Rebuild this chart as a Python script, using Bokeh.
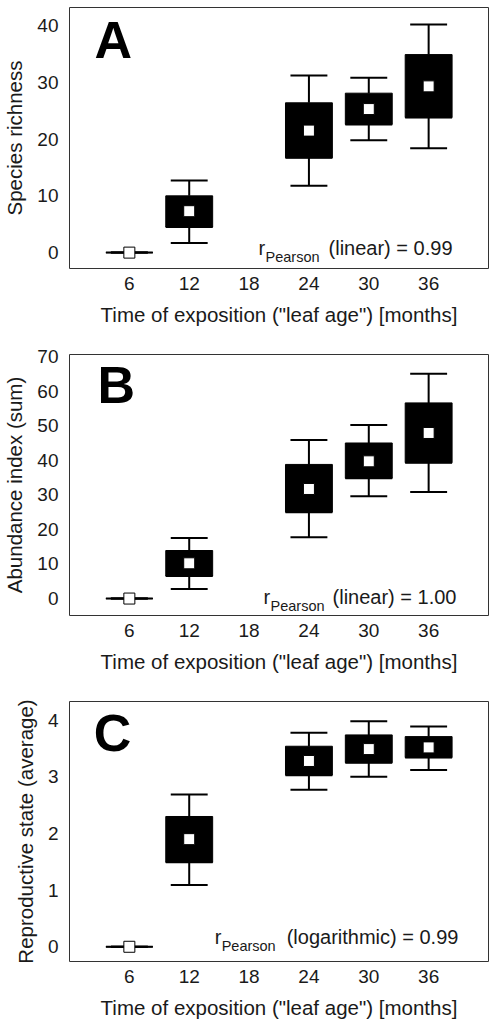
from bokeh.plotting import figure
from bokeh.layouts import column
from bokeh.models import FixedTicker, Label
from bokeh.embed import file_html
from bokeh.resources import INLINE

# ---- data ----
months = [6, 12, 24, 30, 36]
x_ticks = [6, 12, 18, 24, 30, 36]

# Panel A: species richness
rich_lo = [0, 1.7, 11.8, 19.8, 18.4]
rich_q1 = [0, 4.5, 16.7, 22.6, 23.8]
rich_mid = [0, 7.3, 21.5, 25.3, 29.3]
rich_q3 = [0, 10.0, 26.4, 28.1, 34.9]
rich_hi = [0, 12.7, 31.2, 30.8, 40.2]
rich_ticks = [0, 10, 20, 30, 40]

# Panel B: abundance index (sum)
abun_lo = [0, 2.8, 17.7, 29.6, 30.8]
abun_q1 = [0, 6.5, 25.0, 34.8, 39.3]
abun_mid = [0, 10.2, 31.7, 39.7, 47.9]
abun_q3 = [0, 13.9, 38.8, 45.0, 56.6]
abun_hi = [0, 17.5, 45.9, 50.2, 65.0]
abun_ticks = [0, 10, 20, 30, 40, 50, 60, 70]

# Panel C: reproductive state (average)
repr_lo = [0, 1.09, 2.77, 3.00, 3.12]
repr_q1 = [0, 1.49, 3.03, 3.25, 3.34]
repr_mid = [0, 1.90, 3.28, 3.49, 3.52]
repr_q3 = [0, 2.30, 3.54, 3.74, 3.71]
repr_hi = [0, 2.69, 3.78, 3.98, 3.89]
repr_ticks = [0, 1, 2, 3, 4]

FONT = "Liberation Sans"
TXT = "#1a1a1a"
BOX_W = 4.7
CAP_HALF = 1.85


def panel(height, y_range, left, top, bottom, ylabel, yticks,
          lo, q1, mid, q3, hi, letter, letter_pos, pear_pos, pear_text, pear_off):
    p = figure(width=489, height=height, x_range=(0, 42), y_range=y_range,
               min_border_left=left, min_border_right=1, min_border_top=top,
               min_border_bottom=bottom, output_backend="svg", toolbar_location=None)
    p.grid.visible = False
    p.outline_line_color = "#333333"
    p.outline_line_width = 1
    for ax in (p.xaxis[0], p.yaxis[0]):
        ax.axis_line_color = None
        ax.major_tick_line_color = None
        ax.minor_tick_line_color = None
        ax.major_label_text_font = FONT
        ax.major_label_text_font_size = "19px"
        ax.major_label_text_color = TXT
        ax.axis_label_text_font = FONT
        ax.axis_label_text_font_size = "20.5px"
        ax.axis_label_text_font_style = "normal"
        ax.axis_label_text_color = TXT
    p.xaxis.ticker = FixedTicker(ticks=x_ticks)
    p.yaxis.ticker = FixedTicker(ticks=yticks)
    p.xaxis.axis_label = 'Time of exposition ("leaf age") [months]'
    p.yaxis.axis_label = ylabel
    p.xaxis.major_label_standoff = 2
    p.xaxis.axis_label_standoff = 10
    p.yaxis.major_label_standoff = 5
    p.yaxis.axis_label_standoff = 8

    # whiskers
    p.segment(x0=months, y0=q3, x1=months, y1=hi, line_color="black", line_width=2)
    p.segment(x0=months, y0=lo, x1=months, y1=q1, line_color="black", line_width=2)
    p.segment(x0=[m - CAP_HALF for m in months], y0=hi,
              x1=[m + CAP_HALF for m in months], y1=hi, line_color="black", line_width=2)
    p.segment(x0=[m - CAP_HALF for m in months], y0=lo,
              x1=[m + CAP_HALF for m in months], y1=lo, line_color="black", line_width=2)
    # boxes
    p.vbar(x=months, width=BOX_W, bottom=q1, top=q3, fill_color="black", line_color="black")
    p.segment(x0=[m - BOX_W / 2 for m in months], y0=q1,
              x1=[m + BOX_W / 2 for m in months], y1=q1, line_color="black", line_width=2)
    # centre markers
    p.scatter(x=months, y=mid, marker="square", size=11, fill_color="white",
              line_color="black", line_width=1)

    p.add_layout(Label(x=letter_pos[0], y=letter_pos[1], text=letter, text_font=FONT,
                       text_font_size="52px", text_font_style="bold", text_color="black"))
    px, py = pear_pos
    p.add_layout(Label(x=px, y=py, text="r", text_font=FONT, text_font_size="20px",
                       text_color=TXT))
    p.add_layout(Label(x=px, y=py, x_offset=7, y_offset=-6, text="Pearson", text_font=FONT,
                       text_font_size="14.5px", text_color=TXT))
    p.add_layout(Label(x=px, y=py, x_offset=pear_off, text=pear_text, text_font=FONT,
                       text_font_size="20px", text_color=TXT))
    return p


pA = panel(330, (-2.8, 43.2), 69, 7, 62, "Species richness", rich_ticks,
           rich_lo, rich_q1, rich_mid, rich_q3, rich_hi,
           "A", (2.5, 32.4), (18.95, -1.06), "(linear) = 0.99", 70)
pB = panel(345, (-4.9, 70.6), 69, 24, 60, "Abundance index (sum)", abun_ticks,
           abun_lo, abun_q1, abun_mid, abun_q3, abun_hi,
           "B", (2.8, 53.5), (19.45, -2.6), "(linear) = 1.00", 69)
pC = panel(346, (-0.26, 4.33), 58, 26, 59, "Reproductive state (average)", repr_ticks,
           repr_lo, repr_q1, repr_mid, repr_q3, repr_hi,
           "C", (2.44, 3.27), (14.55, -0.02), "(logarithmic) = 0.99", 72)

layout = column(pA, pB, pC, spacing=0)
open("out.html", "w").write(file_html(layout, INLINE))
